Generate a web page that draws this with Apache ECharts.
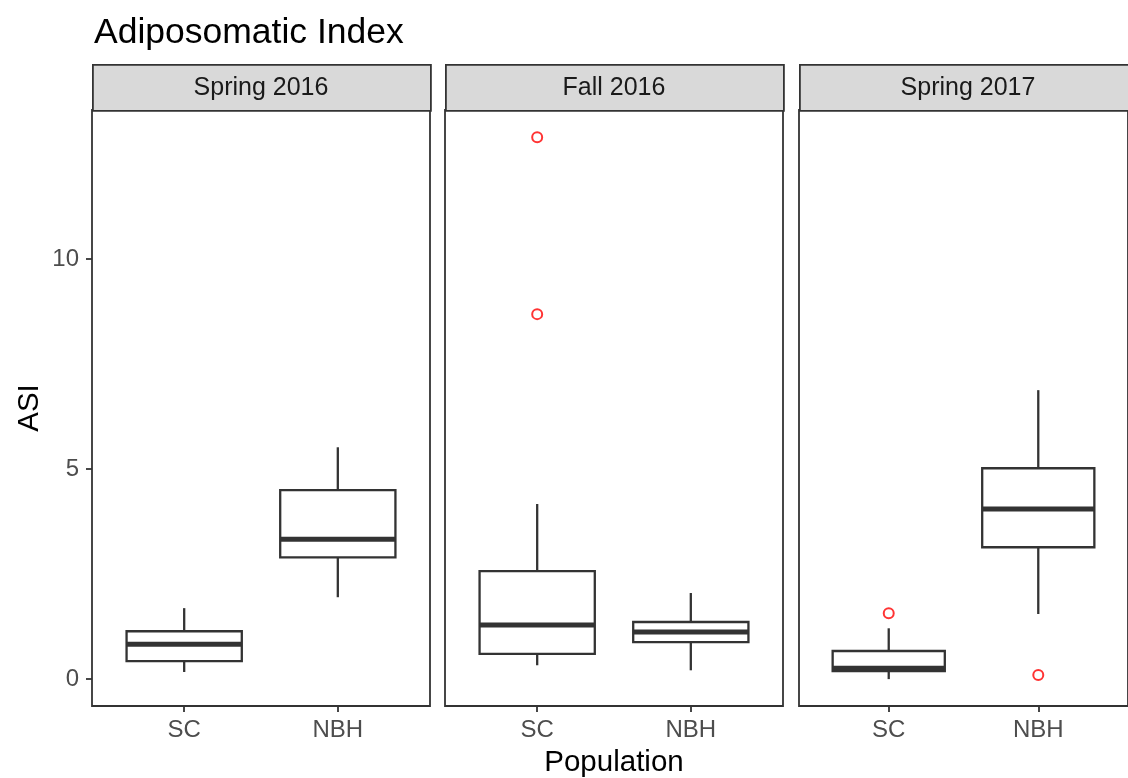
<!DOCTYPE html>
<html><head><meta charset="utf-8">
<script src="https://cdn.jsdelivr.net/npm/echarts@6/dist/echarts.min.js"></script>
<style>html,body{margin:0;padding:0;background:#fff}#c{width:1128px;height:778px}</style>
</head><body><div id="c"></div>
<script>
const panels = ['Spring 2016', 'Fall 2016', 'Spring 2017'];
const populations = ['SC', 'NBH'];
const yTicks = [0, 5, 10];
// [whiskerLow, Q1, median, Q3, whiskerHigh] per population (SC, NBH)
const spring2016 = [[0.17, 0.43, 0.83, 1.14, 1.69], [1.95, 2.90, 3.33, 4.50, 5.52]];
const fall2016   = [[0.33, 0.60, 1.29, 2.57, 4.17], [0.21, 0.88, 1.12, 1.36, 2.05]];
const spring2017 = [[0.00, 0.19, 0.26, 0.67, 1.21], [1.55, 3.14, 4.05, 5.02, 6.88]];
// outliers per population (SC, NBH)
const spring2016Out = [[], []];
const fall2016Out   = [[12.9, 8.69], []];
const spring2017Out = [[1.57], [0.1]];

const boxes = [spring2016, fall2016, spring2017];
const outs = [spring2016Out, fall2016Out, spring2017Out];

const FONT = 'Liberation Sans, Arial, Helvetica, sans-serif';
const panelLeft = [92, 445, 799];
const panelW = 338, panelTop = 110, panelH = 596;
const stripTop = 64, stripH = 46;

const chart = echarts.init(document.getElementById('c'), null, {renderer: 'canvas'});
const grids = [], xAxes = [], yAxes = [], series = [], graphics = [];

panels.forEach((p, i) => {
  grids.push({left: panelLeft[i], top: panelTop, width: panelW, height: panelH,
    show: true, borderColor: '#333333', borderWidth: 1.8, backgroundColor: '#fff', containLabel: false});
  xAxes.push({type: 'value', gridIndex: i, min: 0.4, max: 2.6, position: 'bottom',
    axisLine: {show: false, onZero: false}, splitLine: {show: false},
    axisTick: {show: true, length: 6, lineStyle: {color: '#333333', width: 1.8}, customValues: [1, 2]},
    axisLabel: {show: true, customValues: [1, 2], margin: 12, color: '#4d4d4d', fontSize: 24, fontFamily: FONT,
      formatter: v => populations[Math.round(v) - 1] || ''}
  });
  yAxes.push({type: 'value', gridIndex: i, min: -0.64, max: 13.55, position: 'left',
    axisLine: {show: false, onZero: false}, splitLine: {show: false},
    axisTick: {show: i === 0, length: 6, lineStyle: {color: '#333333', width: 1.8}, customValues: yTicks},
    axisLabel: {show: i === 0, customValues: yTicks, margin: 13, color: '#4d4d4d', fontSize: 24, fontFamily: FONT}
  });
  const data = boxes[i].map((b, j) => [j + 1].concat(b));
  series.push({
    type: 'custom', xAxisIndex: i, yAxisIndex: i, data: data, clip: false,
    encode: {x: 0, y: [1, 2, 3, 4, 5]},
    renderItem: function (params, api) {
      const x = api.value(0);
      const lo = api.value(1), q1 = api.value(2), md = api.value(3), q3 = api.value(4), hi = api.value(5);
      const hw = 0.375;
      const pTL = api.coord([x - hw, q3]);
      const pBR = api.coord([x + hw, q1]);
      const pc = api.coord([x, md]);
      const pHi = api.coord([x, hi]);
      const pLo = api.coord([x, lo]);
      const pQ3 = api.coord([x, q3]);
      const pQ1 = api.coord([x, q1]);
      const st = {stroke: '#333333', lineWidth: 2.3, fill: null};
      return {type: 'group', children: [
        {type: 'line', shape: {x1: pHi[0], y1: pHi[1], x2: pQ3[0], y2: pQ3[1]}, style: st},
        {type: 'line', shape: {x1: pQ1[0], y1: pQ1[1], x2: pLo[0], y2: pLo[1]}, style: st},
        {type: 'rect', shape: {x: pTL[0], y: pTL[1], width: pBR[0] - pTL[0], height: pBR[1] - pTL[1]},
          style: {stroke: '#333333', lineWidth: 2.3, fill: '#ffffff'}},
        {type: 'line', shape: {x1: pTL[0], y1: pc[1], x2: pBR[0], y2: pc[1]},
          style: {stroke: '#333333', lineWidth: 5}}
      ]};
    },
    z: 2
  });
  const od = [];
  outs[i].forEach((arr, j) => arr.forEach(v => od.push([j + 1, v])));
  series.push({type: 'scatter', xAxisIndex: i, yAxisIndex: i, data: od, symbol: 'emptyCircle',
    symbolSize: 10, itemStyle: {color: '#ff0000', borderWidth: 1.8}, z: 3, clip: false});
  graphics.push({type: 'rect', left: panelLeft[i], top: stripTop,
    shape: {width: panelW, height: stripH},
    style: {fill: '#d9d9d9', stroke: '#333333', lineWidth: 1.8}});
  graphics.push({type: 'text', x: panelLeft[i] + panelW / 2, y: stripTop + stripH / 2 + 1,
    style: {text: p, fill: '#1a1a1a', fontSize: 25, fontFamily: FONT, align: 'center', verticalAlign: 'middle'}});
});

graphics.push({type: 'text', x: 30, y: 408, rotation: Math.PI / 2,
  style: {text: 'ASI', fill: '#000', fontSize: 29.5, fontFamily: FONT, align: 'center', verticalAlign: 'middle'}});
graphics.push({type: 'text', x: 614, y: 763,
  style: {text: 'Population', fill: '#000', fontSize: 29.5, fontFamily: FONT, align: 'center', verticalAlign: 'middle'}});

chart.setOption({
  animation: false,
  backgroundColor: '#ffffff',
  title: {text: 'Adiposomatic Index', left: 89, top: 10,
    textStyle: {fontSize: 35.5, fontWeight: 'normal', color: '#000', fontFamily: FONT}},
  grid: grids, xAxis: xAxes, yAxis: yAxes, series: series, graphic: graphics
});
</script></body></html>
